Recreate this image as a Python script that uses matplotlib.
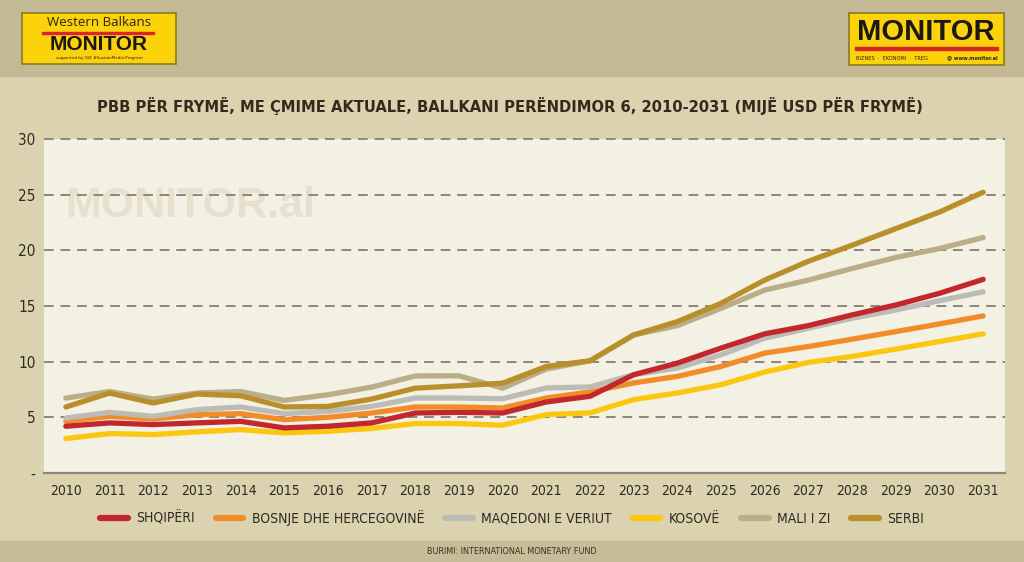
import matplotlib
matplotlib.use("Agg")
import matplotlib.pyplot as plt
from matplotlib.patches import Rectangle

# data (mijë USD për frymë)
years = list(range(2010, 2032))
shqiperi = [4.2, 4.5, 4.35, 4.5, 4.64, 4.05, 4.2, 4.5, 5.39, 5.45, 5.39,
            6.38, 6.89, 8.83, 9.87, 11.22, 12.5, 13.24, 14.2, 15.09, 16.14, 17.39]
bosnje = [4.64, 5.09, 4.85, 5.24, 5.33, 4.79, 5.0, 5.39, 5.93, 5.93, 5.84,
          6.74, 7.28, 8.09, 8.68, 9.57, 10.77, 11.36, 12.02, 12.7, 13.39, 14.11]
maqedoni = [4.94, 5.45, 5.09, 5.69, 5.93, 5.33, 5.54, 5.98, 6.73, 6.73, 6.67,
            7.64, 7.73, 8.83, 9.43, 10.62, 12.11, 13.0, 13.9, 14.64, 15.47, 16.28]
kosove = [3.1, 3.54, 3.45, 3.69, 3.9, 3.6, 3.75, 4.0, 4.44, 4.44, 4.29,
          5.25, 5.4, 6.59, 7.19, 7.93, 9.07, 9.93, 10.47, 11.13, 11.81, 12.5]
mali = [6.73, 7.32, 6.64, 7.18, 7.32, 6.52, 7.03, 7.71, 8.72, 8.73, 7.62,
        9.34, 10.08, 12.4, 13.24, 14.79, 16.43, 17.33, 18.37, 19.36, 20.16, 21.15]
serbi = [5.93, 7.18, 6.29, 7.09, 6.94, 5.93, 5.98, 6.64, 7.62, 7.83, 8.07,
         9.57, 10.08, 12.4, 13.6, 15.24, 17.33, 19.02, 20.46, 21.95, 23.44, 25.22]

labels = ["SHQIPËRI", "BOSNJE DHE HERCEGOVINË", "MAQEDONI E VERIUT",
          "KOSOVË", "MALI I ZI", "SERBI"]
series = [shqiperi, bosnje, maqedoni, kosove, mali, serbi]
colors = ["#c1272d", "#f28c28", "#bcbcb6", "#fdc70f", "#b9ae87", "#b98f2c"]
zorders = [6, 5, 5, 4, 3, 7]

yticks = [0, 5, 10, 15, 20, 25, 30]
ytick_labels = ["-", "5", "10", "15", "20", "25", "30"]

# condensed face if the system has it, plain DejaVu otherwise
narrow = dict(family="DejaVu Sans", stretch="condensed")

fig = plt.figure(figsize=(10.24, 5.62), dpi=100)
fig.patch.set_facecolor("#dbd3af")

# background decorations in pixel coords
bg = fig.add_axes([0, 0, 1, 1], zorder=0)
bg.set_xlim(0, 1024)
bg.set_ylim(562, 0)
bg.axis("off")
bg.add_patch(Rectangle((0, 0), 1024, 76, color="#c3b994"))
bg.add_patch(Rectangle((0, 541), 1024, 21, color="#c6bc98"))

# left logo
bg.add_patch(Rectangle((22, 13), 154, 51, facecolor="#fcd20a", edgecolor="#8a7a20", lw=1.2))
bg.text(99, 23, "Western Balkans", ha="center", va="center", fontsize=9.5,
        color="#2a2410", family="Open Sans")
bg.add_patch(Rectangle((42, 31.5), 112, 2, color="#d8262c"))
bg.text(99, 45, "MONITOR", ha="center", va="center", fontsize=15, weight="bold",
        color="#1c1810", family="Liberation Sans")
bg.text(99, 58.5, "supported by GIZ #SustainMedia Program", ha="center", va="center",
        fontsize=3, color="#2a2410")

# right logo
bg.add_patch(Rectangle((849, 13), 155, 52, facecolor="#fcd20a", edgecolor="#8a7a20", lw=1.2))
bg.text(926, 32, "MONITOR", ha="center", va="center", fontsize=21, weight="bold",
        color="#1c1810", family="Liberation Sans")
bg.add_patch(Rectangle((855, 47), 143, 3, color="#d8262c"))
bg.text(856, 58, "BIZNES  ·  EKONOMI  ·  TREG", ha="left", va="center", fontsize=3.6,
        color="#2a2410")
bg.text(998, 58, "@ www.monitor.al", ha="right", va="center", fontsize=3.6,
        color="#2a2410", weight="bold")

# title
bg.text(510, 106, "PBB PËR FRYMË, ME ÇMIME AKTUALE, BALLKANI PERËNDIMOR 6, 2010-2031 (MIJË USD PËR FRYMË)",
        ha="center", va="center", fontsize=11.8, weight="bold", color="#332a1c", **narrow)

# source
bg.text(512, 551, "BURIMI: INTERNATIONAL MONETARY FUND", ha="center", va="center",
        fontsize=6.5, color="#3b3222", **narrow)

# main chart
ax = fig.add_axes([44 / 1024, 1 - 473 / 562, 961 / 1024, 334 / 562], zorder=1)
ax.set_facecolor("#f3f0e4")
ax.text(0.022, 0.8, "MONITOR.al", transform=ax.transAxes, fontsize=31, weight="bold",
        color="#e6e0cc", family="Liberation Sans", va="center", ha="left", zorder=0)

for yv in yticks[1:]:
    ax.axhline(yv, color="#8c877a", lw=1.4, ls=(0, (5, 3.5)), zorder=1, clip_on=False)

for vals, lab, col, zo in zip(series, labels, colors, zorders):
    ax.plot(years, vals, color=col, lw=3.8, label=lab, solid_capstyle="round",
            solid_joinstyle="round", zorder=zo)

ax.set_xlim(2009.5, 2031.5)
ax.set_ylim(0, 30)
ax.set_xticks(years)
ax.set_xticklabels([str(y) for y in years], fontsize=10, color="#2e2a22", **narrow)
ax.set_yticks(yticks)
ax.set_yticklabels(ytick_labels, fontsize=11, color="#2e2a22", **narrow)
ax.tick_params(axis="both", length=0)
ax.tick_params(axis="x", pad=8)
ax.tick_params(axis="y", pad=6)
for side in ["top", "right", "left"]:
    ax.spines[side].set_visible(False)
ax.spines["bottom"].set_color("#8c877a")
ax.spines["bottom"].set_linewidth(1.6)

handles, _ = ax.get_legend_handles_labels()
leg = fig.legend(handles, labels, loc="center", bbox_to_anchor=(0.5, 1 - 518 / 562), ncol=6,
                 frameon=False, handlelength=2.0, columnspacing=1.5, handletextpad=0.6,
                 prop=dict(size=10, **narrow))
for t in leg.get_texts():
    t.set_color("#2e2a22")
for h in leg.legend_handles:
    h.set_linewidth(4.5)

fig.savefig("out.png", dpi=100, facecolor=fig.get_facecolor())
